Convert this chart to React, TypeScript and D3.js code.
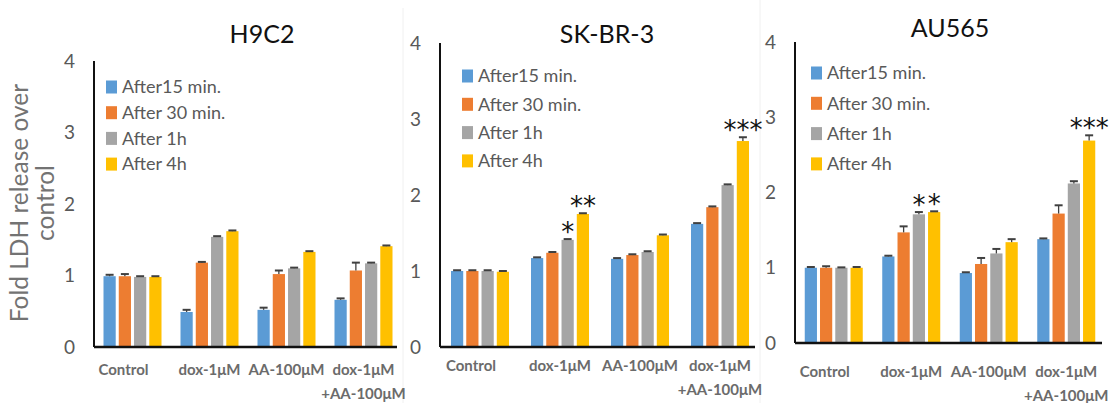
import * as d3 from 'd3'

// categories, series, ticks
const categoryLines: string[][] = [['Control'], ['dox-1μM'], ['AA-100μM'], ['dox-1μM', '+AA-100μM']]
const seriesNames = ['After15 min.', 'After 30 min.', 'After 1h', 'After 4h']
const seriesColors = ['#5B9BD5', '#ED7D31', '#A5A5A5', '#FFC000']
const yTicks = [0, 1, 2, 3, 4]

// H9C2
const h9c2Titles = 'H9C2'
const h9c2After15 = [0.99, 0.49, 0.52, 0.66]
const h9c2After30 = [0.99, 1.18, 1.02, 1.07]
const h9c2After1h = [0.98, 1.54, 1.1, 1.17]
const h9c2After4h = [0.98, 1.62, 1.33, 1.41]
const h9c2Err15 = [0.02, 0.03, 0.03, 0.02]
const h9c2Err30 = [0.03, 0.01, 0.05, 0.11]
const h9c2Err1h = [0.01, 0.01, 0.01, 0.01]
const h9c2Err4h = [0.01, 0.01, 0.01, 0.01]

// SK-BR-3
const skbr3After15 = [1.0, 1.17, 1.16, 1.62]
const skbr3After30 = [1.0, 1.24, 1.21, 1.84]
const skbr3After1h = [1.0, 1.41, 1.25, 2.13]
const skbr3After4h = [0.99, 1.75, 1.47, 2.71]
const skbr3Err15 = [0.01, 0.01, 0.01, 0.01]
const skbr3Err30 = [0.01, 0.01, 0.01, 0.01]
const skbr3Err1h = [0.01, 0.01, 0.01, 0.01]
const skbr3Err4h = [0.01, 0.01, 0.01, 0.05]

// AU565
const au565After15 = [1.0, 1.15, 0.93, 1.38]
const au565After30 = [1.0, 1.47, 1.05, 1.72]
const au565After1h = [1.0, 1.71, 1.19, 2.12]
const au565After4h = [1.0, 1.74, 1.34, 2.69]
const au565Err15 = [0.01, 0.01, 0.01, 0.01]
const au565Err30 = [0.02, 0.08, 0.08, 0.11]
const au565Err1h = [0.005, 0.03, 0.06, 0.03]
const au565Err4h = [0.01, 0.01, 0.04, 0.07]

// significance marks: [group, series, label]
const skbr3Stars: [number, number, string][] = [[1, 2, '*'], [1, 3, '**'], [3, 3, '***']]
const au565Stars: [number, number, string][] = [[1, 2, '*'], [1, 3, '*'], [3, 3, '***']]

interface Panel {
  title: string
  values: number[][]
  errors: number[][]
  stars: [number, number, string][]
  // layout
  x0: number
  x1: number
  axisEnd: number
  yTop: number
  yBase: number
  titleX: number
  titleY: number
  legendX: number
  legendY: number
  legendStep: number
  labelY: number
}

const panels: Panel[] = [
  {
    title: h9c2Titles,
    values: [h9c2After15, h9c2After30, h9c2After1h, h9c2After4h],
    errors: [h9c2Err15, h9c2Err30, h9c2Err1h, h9c2Err4h],
    stars: [],
    x0: 94, x1: 402, axisEnd: 397, yTop: 61, yBase: 347,
    titleX: 262, titleY: 43, legendX: 106, legendY: 87, legendStep: 25.7, labelY: 375
  },
  {
    title: 'SK-BR-3',
    values: [skbr3After15, skbr3After30, skbr3After1h, skbr3After4h],
    errors: [skbr3Err15, skbr3Err30, skbr3Err1h, skbr3Err4h],
    stars: skbr3Stars,
    x0: 440, x1: 760, axisEnd: 755, yTop: 43, yBase: 347,
    titleX: 607, titleY: 43, legendX: 462, legendY: 76, legendStep: 28.3, labelY: 371
  },
  {
    title: 'AU565',
    values: [au565After15, au565After30, au565After1h, au565After4h],
    errors: [au565Err15, au565Err30, au565Err1h, au565Err4h],
    stars: au565Stars,
    x0: 795, x1: 1105, axisEnd: 1102, yTop: 42, yBase: 343,
    titleX: 950, titleY: 37, legendX: 811, legendY: 73, legendStep: 30.3, labelY: 377
  }
]

const FONT = 'Lato, "Open Sans", sans-serif'
const GRAY = '#595959'

function ChartPanel({ p }: { p: Panel }) {
  const groups = d3.range(categoryLines.length)
  const x = d3.scaleBand<number>().domain(groups).range([p.x0, p.x1]).padding(0)
  const y = d3.scaleLinear().domain([0, 4]).range([p.yBase, p.yTop])
  const inner = d3.scaleBand<number>().domain(d3.range(seriesNames.length)).range([-29, 29]).paddingInner(0.2)

  const cx = (g: number) => (x(g) ?? 0) + x.bandwidth() / 2
  const barX = (g: number, s: number) => cx(g) + (inner(s) ?? 0)
  const barMid = (g: number, s: number) => barX(g, s) + inner.bandwidth() / 2

  return (
    <g>
      {/* title */}
      <text x={p.titleX} y={p.titleY} textAnchor="middle" fontFamily={FONT} fontSize={25} fill="#111">
        {p.title}
      </text>

      {/* y tick labels */}
      {yTicks.map(t => (
        <text key={t} x={p.x0 - 19} y={y(t)} dy="0.35em" textAnchor="end" fontFamily={FONT} fontSize={19} fill={GRAY}>
          {t}
        </text>
      ))}

      {/* bars */}
      {p.values.map((vals, s) =>
        vals.map((v, g) => (
          <rect
            key={`b${s}-${g}`}
            x={barX(g, s)}
            y={y(v)}
            width={inner.bandwidth()}
            height={y(0) - y(v)}
            fill={seriesColors[s]}
          />
        ))
      )}

      {/* error bars (upper only) */}
      {p.values.map((vals, s) =>
        vals.map((v, g) => {
          const e = p.errors[s][g]
          const m = barMid(g, s)
          return (
            <g key={`e${s}-${g}`} stroke="#404040" strokeWidth={1.3}>
              <line x1={m} x2={m} y1={y(v)} y2={y(v + e)} />
              <line x1={m - 4} x2={m + 4} y1={y(v + e)} y2={y(v + e)} strokeWidth={2} />
            </g>
          )
        })
      )}

      {/* significance */}
      {p.stars.map(([g, s, label], i) => {
        const top = y(p.values[s][g] + p.errors[s][g])
        return (
          <text key={`s${i}`} x={barMid(g, s)} y={top + 2} textAnchor="middle"
            fontFamily='"DejaVu Sans", sans-serif' fontSize={26} fill="#111">
            {label}
          </text>
        )
      })}

      {/* axes */}
      <line x1={p.x0} x2={p.x0} y1={p.yTop} y2={p.yBase} stroke="#111" strokeWidth={2} />
      <line x1={p.x0} x2={p.axisEnd} y1={p.yBase} y2={p.yBase} stroke="#111" strokeWidth={2.5} />

      {/* category labels */}
      {categoryLines.map((lines, g) => (
        <text key={`c${g}`} textAnchor="middle" fontFamily={FONT} fontSize={15} fontWeight={700} fill="#6b6b6b">
          {lines.map((ln, i) => (
            <tspan key={i} x={cx(g) + (g === 0 ? -9 : 0)} y={p.labelY + i * 24}>{ln}</tspan>
          ))}
        </text>
      ))}

      {/* legend */}
      {seriesNames.map((name, s) => {
        const ly = p.legendY + s * p.legendStep
        return (
          <g key={`l${s}`}>
            <rect x={p.legendX} y={ly - 6.5} width={11} height={13} fill={seriesColors[s]} />
            <text x={p.legendX + 16} y={ly} dy="0.35em" fontFamily={FONT} fontSize={18} fill={GRAY}>
              {name}
            </text>
          </g>
        )
      })}
    </g>
  )
}

export default function App() {
  return (
    <div style={{ position: 'absolute', left: 0, top: 0 }}>
      <svg width={1112} height={403} style={{ display: 'block', background: '#fff' }}>
        {/* faint edges of the pasted panels */}
        <line x1={403} x2={403} y1={8} y2={403} stroke="#f0f0f0" />
        <line x1={760} x2={760} y1={0} y2={403} stroke="#f0f0f0" />

        {/* shared y-axis title */}
        <g fontFamily={FONT} fontSize={24.5} fill="#737373" textAnchor="middle">
          <text transform="translate(28,203) rotate(-90)">Fold LDH release over</text>
          <text transform="translate(54,203) rotate(-90)">control</text>
        </g>

        {panels.map(p => (
          <ChartPanel key={p.title} p={p} />
        ))}
      </svg>
    </div>
  )
}
